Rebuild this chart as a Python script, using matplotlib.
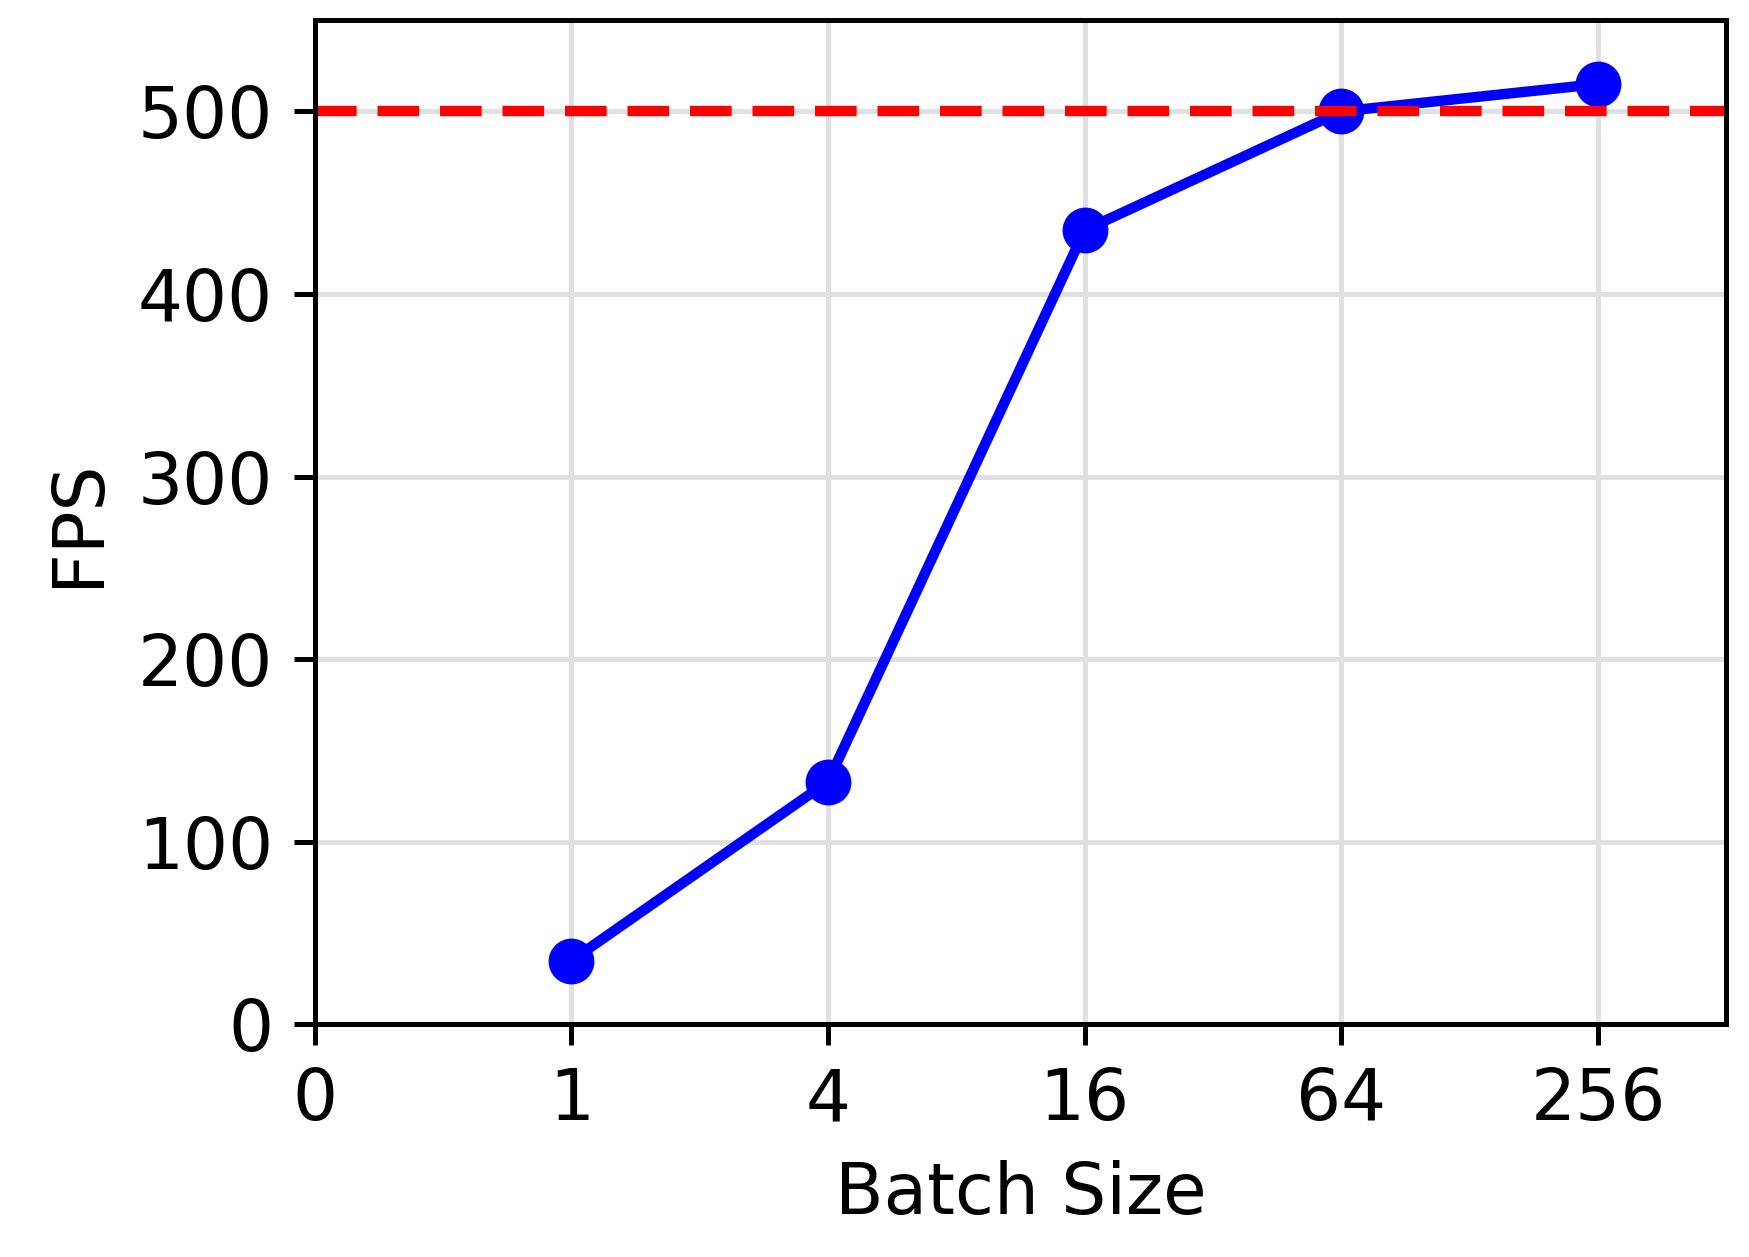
import matplotlib
matplotlib.use("Agg")
import matplotlib.pyplot as plt

positions = [1, 2, 3, 4, 5]
fps = [35, 133, 435, 500, 515]
tick_labels = ["0", "1", "4", "16", "64", "256"]
target = 500

fig = plt.figure(figsize=(1749/300, 1257/300), dpi=300)
ax = fig.add_axes([0.18, 0.185, 0.807, 0.799])
ax.grid(True, color="#e0e0e0", linewidth=1.2)
ax.set_axisbelow(True)
ax.plot(positions, fps, color="blue", linewidth=2.5, marker="o", markersize=10)
ax.axhline(target, color="red", linestyle="--", linewidth=2.5, dashes=(4, 2))
ax.set_xticks(range(6))
ax.set_xticklabels(tick_labels)
ax.set_xlim(0, 5.5)
ax.set_ylim(0, 550)
ax.set_yticks(range(0, 501, 100))
ax.tick_params(labelsize=17, length=5, width=1.2, pad=5)
ax.set_xlabel("Batch Size", fontsize=17, labelpad=6)
ax.set_ylabel("FPS", fontsize=17, labelpad=6)
for s in ax.spines.values():
    s.set_linewidth(1.2)
fig.savefig("out.png", dpi=300)
